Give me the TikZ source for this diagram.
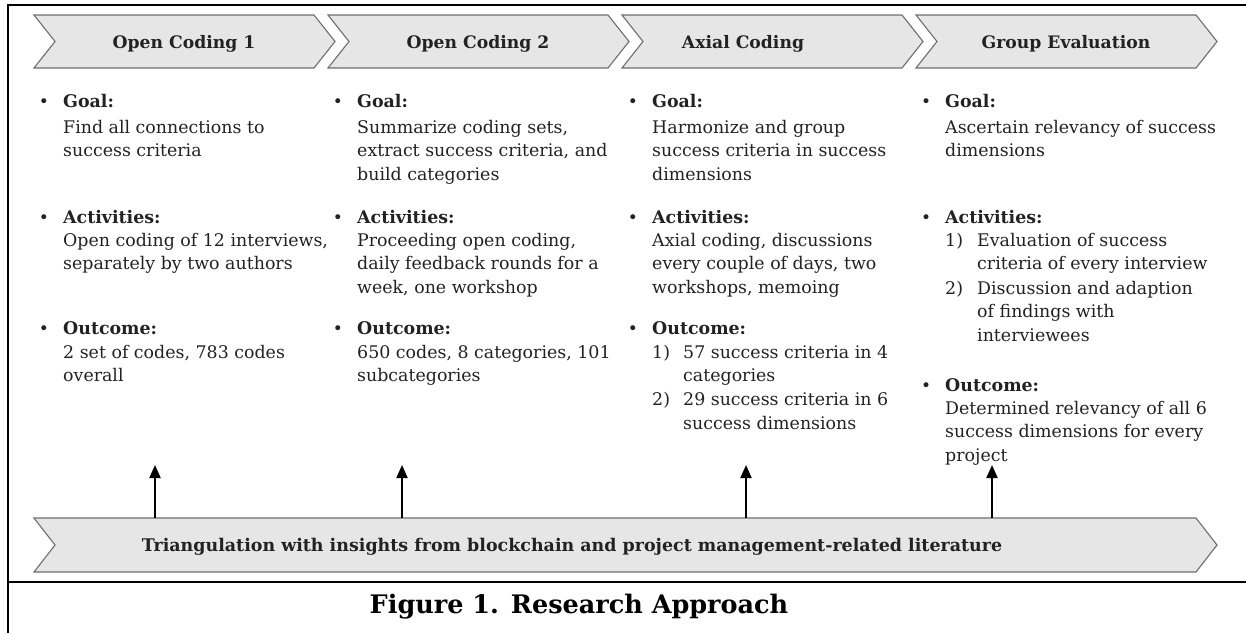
\documentclass[tikz,border=0pt]{standalone}
\usepackage{fontspec}
\setmainfont{DejaVu Serif}
\usetikzlibrary{arrows.meta}
\definecolor{chevfill}{HTML}{E6E6E6}
\definecolor{chevdraw}{HTML}{6E6E6E}
\definecolor{txtcol}{HTML}{222222}
\newcommand\bodyfont{\fontsize{17.4}{23.8}\selectfont}
\newcommand\headfont{\fontsize{17.2}{20}\selectfont\bfseries}
\newcommand\banfont{\fontsize{17.45}{20}\selectfont\bfseries}
\newcommand\capfont{\fontsize{25.5}{28}\selectfont\bfseries}
\newcommand\chevpath[4]{% xL, xR, ytop, ybot
  \draw[chev] (#1,#3) -- (#2-21,#3) -- (#2,{(#3+#4)/2}) -- (#2-21,#4) -- (#1,#4) -- (#1+21,{(#3+#4)/2}) -- cycle;}
\newcommand\txtlines[4]{% name, x, first baseline, list
  \foreach \t [count=\i from 0] in {#4} {\node[txt] (#1\i) at (#2,#3+\i*23.8) {\t};}}
\newcommand\bulhead[5]{% name, bullet x, text x, baseline, text
  \node[bul] (#1b) at (#2,#4) {•};
  \node[hdr] (#1) at (#3,#4) {#5};}
\begin{document}
\begin{tikzpicture}[x=1pt,y=-1pt,
  chev/.style={fill=chevfill,draw=chevdraw,line width=1.1pt,line join=miter},
  frameline/.style={draw=black,line width=2.6pt},
  txt/.style={anchor=base west,inner sep=0pt,font=\bodyfont,text=txtcol},
  hdr/.style={anchor=base west,inner sep=0pt,font=\bodyfont\bfseries,text=txtcol},
  bul/.style={anchor=base,inner sep=0pt,font=\fontsize{17}{20}\selectfont,text=txtcol},
  ctitle/.style={anchor=base,inner sep=0pt,font=\headfont,text=txtcol},
  uparrow/.style={-{Triangle[width=11pt,length=13pt]},line width=2pt,draw=black}]
\useasboundingbox (0,0) rectangle (1246,632);
\begin{scope}
\clip (0,0) rectangle (1246,632);
\draw[frameline] (8,5) rectangle (1270,660);
\draw[frameline] (8,582) -- (1270,582);
\end{scope}
% top chevrons
\chevpath{34}{335}{15}{68}
\chevpath{328}{629}{15}{68}
\chevpath{622}{923}{15}{68}
\chevpath{916}{1217}{15}{68}
\node[ctitle] (t1) at (184,48) {Open Coding 1};
\node[ctitle] (t2) at (478,48) {Open Coding 2};
\node[ctitle] (t3) at (743,48) {Axial Coding};
\node[ctitle] (t4) at (1066,48) {Group Evaluation};
% bottom banner
\chevpath{34}{1217}{518}{572}
\node[ctitle,font=\banfont] (tri) at (572,551) {Triangulation with insights from blockchain and project management-related literature};
% caption
\node[anchor=base,inner sep=0pt,font=\capfont,text=black] (cap) at (579,613) {Figure 1. Research Approach};
% column 1
\bulhead{g1}{44}{63}{107}{Goal:}
\txtlines{g1l}{63}{133}{{Find all connections to},{success criteria}}
\bulhead{a1}{44}{63}{223}{Activities:}
\txtlines{a1l}{63}{246}{{Open coding of 12 interviews,},{separately by two authors}}
\bulhead{o1}{44}{63}{334}{Outcome:}
\txtlines{o1l}{63}{358}{{2 set of codes, 783 codes},{overall}}
% column 2
\bulhead{g2}{338}{357}{107}{Goal:}
\txtlines{g2l}{357}{133}{{Summarize coding sets,},{extract success criteria, and},{build categories}}
\bulhead{a2}{338}{357}{223}{Activities:}
\txtlines{a2l}{357}{246}{{Proceeding open coding,},{daily feedback rounds for a},{week, one workshop}}
\bulhead{o2}{338}{357}{334}{Outcome:}
\txtlines{o2l}{357}{358}{{650 codes, 8 categories, 101},{subcategories}}
% column 3
\bulhead{g3}{633}{652}{107}{Goal:}
\txtlines{g3l}{652}{133}{{Harmonize and group},{success criteria in success},{dimensions}}
\bulhead{a3}{633}{652}{223}{Activities:}
\txtlines{a3l}{652}{246}{{Axial coding, discussions},{every couple of days, two},{workshops, memoing}}
\bulhead{o3}{633}{652}{334}{Outcome:}
\node[txt] (o3n1) at (652,358) {1)};
\txtlines{o3a}{683}{358}{{57 success criteria in 4},{categories}}
\node[txt] (o3n2) at (652,405.6) {2)};
\txtlines{o3b}{683}{405.6}{{29 success criteria in 6},{success dimensions}}
% column 4
\bulhead{g4}{926}{945}{107}{Goal:}
\txtlines{g4l}{945}{133}{{Ascertain relevancy of success},{dimensions}}
\bulhead{a4}{926}{945}{223}{Activities:}
\node[txt] (a4n1) at (945,246) {1)};
\txtlines{a4a}{977}{246}{{Evaluation of success},{criteria of every interview}}
\node[txt] (a4n2) at (945,294) {2)};
\txtlines{a4b}{977}{294}{{Discussion and adaption},{of findings with},{interviewees}}
\bulhead{o4}{926}{945}{391}{Outcome:}
\txtlines{o4l}{945}{414}{{Determined relevancy of all 6},{success dimensions for every},{project}}
% arrows
\coordinate (s1) at (155,518); \coordinate (e1) at (155,465);
\coordinate (s2) at (402,518); \coordinate (e2) at (402,465);
\coordinate (s3) at (746,518); \coordinate (e3) at (746,465);
\coordinate (s4) at (992,518); \coordinate (e4) at (992,465);
\foreach \k in {1,2,3,4} {\draw[uparrow] (s\k) -- (e\k);}
\end{tikzpicture}
\end{document}
